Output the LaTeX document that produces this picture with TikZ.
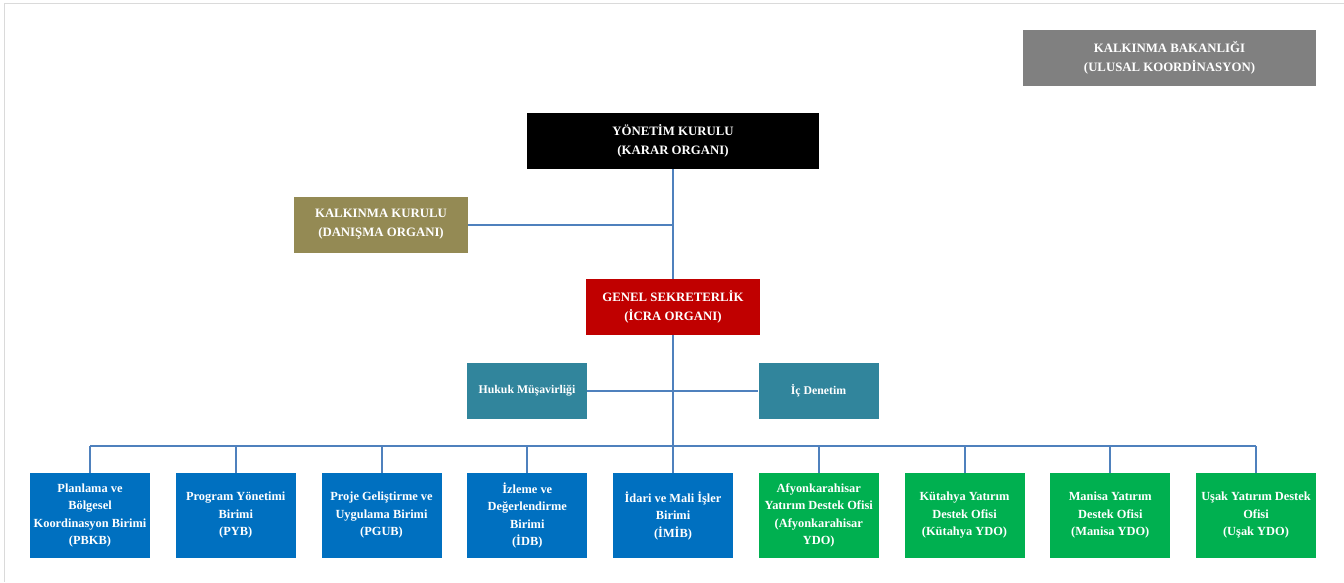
\documentclass[tikz,border=0pt]{standalone}
\usepackage{fontspec}
\setmainfont{Liberation Serif}
\usepackage{tikz}
\usetikzlibrary{positioning}
\definecolor{org_gray}{HTML}{808080}
\definecolor{org_black}{HTML}{000000}
\definecolor{org_olive}{HTML}{948A54}
\definecolor{org_red}{HTML}{C00000}
\definecolor{org_teal}{HTML}{31859C}
\definecolor{org_blue}{HTML}{0070C0}
\definecolor{org_green}{HTML}{00B050}
\definecolor{org_line}{HTML}{4F81BD}
\definecolor{org_frame}{HTML}{DADADA}

\begin{document}
\begin{tikzpicture}[x=1pt, y=-1pt]
            \tikzstyle{unit} = [text = white, align = center, inner sep = 0pt, font = \fontsize{12.8}{19}\selectfont\bfseries];
            \tikzstyle{topunit} = [unit, minimum width = 174pt, minimum height = 56pt];
            \tikzstyle{subunit} = [unit, minimum width = 120pt, minimum height = 56pt, font = \fontsize{11.8}{17.5}\selectfont\bfseries];
            \tikzstyle{unitbox} = [unit, minimum width = 120pt, minimum height = 85pt, font = \fontsize{12.4}{17.5}\selectfont\bfseries];
            \tikzstyle{link} = [draw = org_line, line width = 2pt];
            \useasboundingbox (0,0) rectangle (1344,582);
            \draw[org_frame, line width = 1pt] (4,582) -- (4,3.5) -- (1344,3.5);
            \node[unit, fill = org_gray, minimum width = 293pt, minimum height = 56pt] (kb) at (1169.5,58) {KALKINMA BAKANLIĞI\\(ULUSAL KOORDİNASYON)};
            \node[unit, fill = org_black, minimum width = 292pt, minimum height = 56pt] (yk) at (673,141) {YÖNETİM KURULU\\(KARAR ORGANI)};
            \node[topunit, fill = org_olive] (kk) at (381,224.5) {KALKINMA KURULU\\(DANIŞMA ORGANI)};
            \node[topunit, fill = org_red] (gs) at (673,307) {GENEL SEKRETERLİK\\(İCRA ORGANI)};
            \node[subunit, fill = org_teal] (hm) at (527,391) {Hukuk Müşavirliği};
            \node[subunit, fill = org_teal] (id) at (818.5,391) {İç Denetim};
            \coordinate (bus) at (673,446);
            \foreach \l/\c [count=\i] in {{Planlama ve\\Bölgesel\\Koordinasyon Birimi\\(PBKB)}/org_blue,
                {Program Yönetimi\\Birimi\\(PYB)}/org_blue,
                {Proje Geliştirme ve\\Uygulama Birimi\\(PGUB)}/org_blue,
                {İzleme ve\\Değerlendirme\\Birimi\\(İDB)}/org_blue,
                {İdari ve Mali İşler\\Birimi\\(İMİB)}/org_blue,
                {Afyonkarahisar\\Yatırım Destek Ofisi\\(Afyonkarahisar\\YDO)}/org_green,
                {Kütahya Yatırım\\Destek Ofisi\\(Kütahya YDO)}/org_green,
                {Manisa Yatırım\\Destek Ofisi\\(Manisa YDO)}/org_green,
                {Uşak Yatırım Destek\\Ofisi\\(Uşak YDO)}/org_green}
            {
            \node[unitbox, fill = \c] (b\i) at ({90 + (\i-1)*145.75}, 515.5) {\l};
            \draw[link] (b\i.north) -- (b\i.north |- bus);}
            \draw[link] (yk.south) -- (gs.north);
            \draw[link] (kk.east) -- (kk.east -| yk.south);
            \draw[link] (hm.east) -- (id.west);
            \draw[link] (gs.south) -- (bus);
            \draw[link] (b1.north |- bus) -- (b9.north |- bus);
        \end{tikzpicture}
\end{document}
